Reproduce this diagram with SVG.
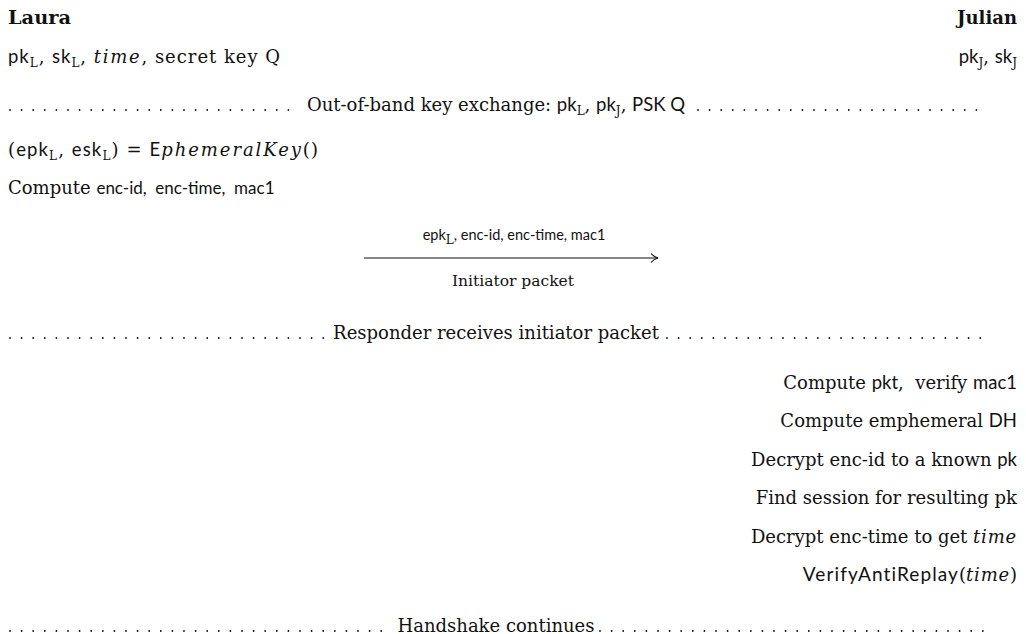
<svg xmlns="http://www.w3.org/2000/svg" width="1026" height="634" viewBox="0 0 1026 634">
<style>
text{font-family:"DejaVu Serif","Liberation Serif",serif;font-size:18px;fill:#111}
.b{font-weight:bold}
.sf{font-family:Lato,"Open Sans",sans-serif;font-size:18.5px}
.sf2{font-family:Lato,"Open Sans",sans-serif;font-size:17px}
.it{font-style:italic;letter-spacing:0.8px}
.sub{font-size:12px}
.sm{font-size:15.5px}
.sm .sf{font-size:14.5px}
.wide{letter-spacing:1.1px;font-size:19px}
.dots{stroke:#111;stroke-width:1.8;stroke-linecap:round;stroke-dasharray:0 11.6;fill:none}
.arr{stroke:#111;stroke-width:1.1;fill:none}
</style>
<defs>
<marker id="ah" markerWidth="12" markerHeight="12" refX="9" refY="6" orient="auto" markerUnits="userSpaceOnUse">
<path d="M2,1.5 Q5,5 9,6 Q5,7 2,10.5" class="arr"/>
</marker>
</defs>
<g id="laura-header">
<text class="b" x="8" y="24" textLength="63" lengthAdjust="spacingAndGlyphs">Laura</text>
<text x="8" y="63" textLength="272" lengthAdjust="spacing"><tspan class="sf">pk</tspan><tspan class="sub" dy="4">L</tspan><tspan dy="-4">, </tspan><tspan class="sf">sk</tspan><tspan class="sub" dy="4">L</tspan><tspan dy="-4">, </tspan><tspan class="it">time</tspan>, secret key Q</text>
</g>
<g id="julian-header">
<text class="b" x="1017" y="24" text-anchor="end">Julian</text>
<text x="1017" y="63" text-anchor="end"><tspan class="sf">pk</tspan><tspan class="sub" dy="4">J</tspan><tspan dy="-4">, </tspan><tspan class="sf">sk</tspan><tspan class="sub" dy="4">J</tspan></text>
</g>
<g id="oob-exchange">
<line class="dots" x1="10" y1="110" x2="296" y2="110"/>
<text x="496" y="111" text-anchor="middle">Out-of-band key exchange: <tspan class="sf">pk</tspan><tspan class="sub" dy="4">L</tspan><tspan dy="-4">, </tspan><tspan class="sf">pk</tspan><tspan class="sub" dy="4">J</tspan><tspan dy="-4">, </tspan><tspan class="sf">PSK Q</tspan></text>
<line class="dots" x1="698" y1="110" x2="985" y2="110"/>
</g>
<g id="laura-compute">
<text x="8" y="156" textLength="310" lengthAdjust="spacing">(<tspan class="sf">epk</tspan><tspan class="sub" dy="4">L</tspan><tspan dy="-4">, </tspan><tspan class="sf">esk</tspan><tspan class="sub" dy="4">L</tspan><tspan dy="-4">)  =  </tspan><tspan class="sf">E</tspan><tspan class="it">phemeralKey</tspan>()</text>
<text x="8" y="194" xml:space="preserve">Compute <tspan class="sf2">enc-id,  enc-time,  mac1</tspan></text>
</g>
<g id="connectors">
<line class="arr" x1="364" y1="258" x2="658" y2="258" marker-end="url(#ah)"/>
</g>
<g id="initiator-packet">
<text class="sm" x="514" y="240" text-anchor="middle"><tspan class="sf">epk</tspan><tspan class="sub" dy="4">L</tspan><tspan dy="-4" class="sf">, enc-id, enc-time, mac1</tspan></text>
<text class="sm" x="513" y="286" text-anchor="middle">Initiator packet</text>
</g>
<g id="responder-receives">
<line class="dots" x1="10" y1="338" x2="325" y2="338"/>
<text x="496" y="339" text-anchor="middle">Responder receives initiator packet</text>
<line class="dots" x1="667" y1="338" x2="985" y2="338"/>
</g>
<g id="julian-compute">
<text x="1017" y="389" text-anchor="end" xml:space="preserve">Compute <tspan class="sf">pkt</tspan>,  verify <tspan class="sf">mac1</tspan></text>
<text x="1017" y="427" text-anchor="end">Compute emphemeral <tspan class="sf">DH</tspan></text>
<text x="1017" y="466" text-anchor="end">Decrypt enc-id to a known <tspan class="sf">pk</tspan></text>
<text x="1017" y="504" text-anchor="end">Find session for resulting pk</text>
<text x="1017" y="543" text-anchor="end">Decrypt enc-time to get <tspan class="it">time</tspan></text>
<text x="1017" y="581" text-anchor="end"><tspan class="sf wide">VerifyAntiReplay</tspan>(<tspan class="it">time</tspan>)</text>
</g>
<g id="handshake-continues">
<line class="dots" x1="10" y1="631" x2="392" y2="631"/>
<text x="496" y="632" text-anchor="middle">Handshake continues</text>
<line class="dots" x1="600" y1="631" x2="985" y2="631"/>
</g>
</svg>
